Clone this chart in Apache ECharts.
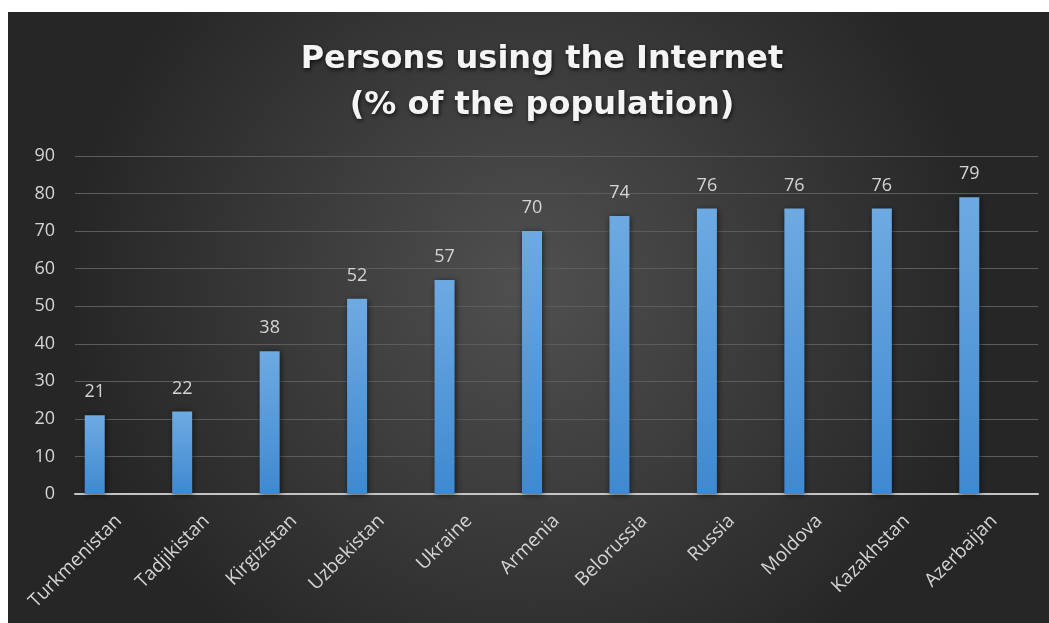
<!DOCTYPE html>
<html>
<head>
<meta charset="utf-8">
<script src="https://cdn.jsdelivr.net/npm/echarts@6/dist/echarts.min.js"></script>
<style>
  html, body { margin: 0; padding: 0; background: #ffffff; width: 1049px; height: 623px; overflow: hidden; }
  #chart { position: absolute; left: 8px; top: 12px; width: 1041px; height: 611px; }
</style>
</head>
<body>
<div id="chart"></div>
<script>
const categories = ['Turkmenistan', 'Tadjikistan', 'Kirgizistan', 'Uzbekistan', 'Ukraine', 'Armenia', 'Belorussia', 'Russia', 'Moldova', 'Kazakhstan', 'Azerbaijan'];
const values = [21, 22, 38, 52, 57, 70, 74, 76, 76, 76, 79];
const titleLines = ['Persons using the Internet', '(% of the population)'];

const chart = echarts.init(document.getElementById('chart'), null, { renderer: 'canvas' });
const font = '"Open Sans", "Noto Sans", sans-serif';
chart.setOption({
  backgroundColor: {
    type: 'radial', x: 0.5, y: 0.45, r: 0.75,
    colorStops: [{ offset: 0, color: '#505050' }, { offset: 1, color: '#262626' }]
  },
  animation: false,
  title: {
    text: titleLines.join('\n'),
    left: 529,
    textAlign: 'center',
    top: 20,
    textStyle: {
      color: '#f4f4f4', fontFamily: '"DejaVu Sans", sans-serif', fontWeight: 'bold', fontSize: 32, lineHeight: 46,
      textShadowColor: 'rgba(0,0,0,0.7)', textShadowBlur: 4, textShadowOffsetX: 1, textShadowOffsetY: 2
    }
  },
  grid: [
    { left: 67, right: 11, top: 144, bottom: 129 },
    { left: 43, right: 36, top: 144, bottom: 129 }
  ],
  xAxis: [
    {
      type: 'category', data: categories, gridIndex: 0,
      axisLine: { lineStyle: { color: '#c4c4c4', width: 2 } },
      axisTick: { show: false },
      axisLabel: { rotate: 45, margin: 24, interval: 0, color: '#d4d4d4', fontFamily: font, fontSize: 19 }
    },
    {
      type: 'category', data: categories, gridIndex: 1, show: false
    }
  ],
  yAxis: [
    {
      type: 'value', gridIndex: 0, min: 0, max: 90, interval: 10,
      axisLine: { show: false }, axisTick: { show: false },
      axisLabel: { margin: 20, color: '#d4d4d4', fontFamily: font, fontSize: 18 },
      splitLine: { lineStyle: { color: '#5c5c5c', width: 1 } }
    },
    { type: 'value', gridIndex: 1, min: 0, max: 90, interval: 10, show: false }
  ],
  series: [{
    type: 'bar', data: values, xAxisIndex: 1, yAxisIndex: 1,
    barWidth: 20,
    itemStyle: {
      color: {
        type: 'linear', x: 0, y: 0, x2: 0, y2: 1,
        colorStops: [{ offset: 0, color: '#6eaae2' }, { offset: 1, color: '#3f89d0' }]
      },
      shadowColor: 'rgba(0,0,0,0.6)', shadowBlur: 6, shadowOffsetX: 1, shadowOffsetY: 1
    },
    label: {
      show: true, position: 'top', distance: 14,
      color: '#d4d4d4', fontFamily: font, fontSize: 18
    }
  }]
});
</script>
</body>
</html>
